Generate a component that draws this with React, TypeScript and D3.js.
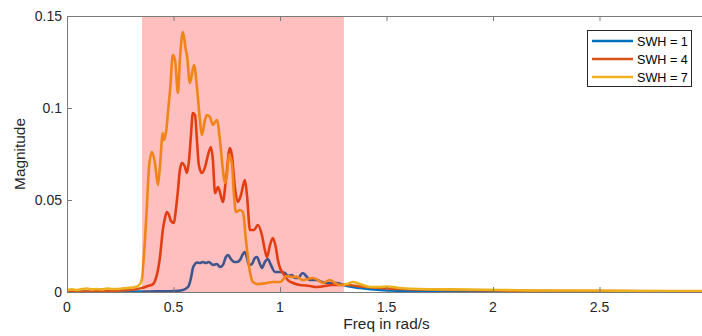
import React from 'react';
import * as d3 from 'd3';

// [freq (rad/s), magnitude]
const swh1: [number, number][] = [
  [0, 0.0001], [0.155, 0.0001], [0.389, 0.0003], [0.507, 0.0005], [0.544, 0.0011], [0.563, 0.0022],
  [0.573, 0.0038], [0.582, 0.0076], [0.591, 0.013], [0.601, 0.0152], [0.61, 0.016], [0.624, 0.0158],
  [0.638, 0.0163], [0.652, 0.0158], [0.666, 0.0163], [0.685, 0.0147], [0.704, 0.0152], [0.718, 0.0136],
  [0.732, 0.0147], [0.746, 0.019], [0.756, 0.0201], [0.77, 0.0179], [0.784, 0.0163], [0.798, 0.0163],
  [0.812, 0.0174], [0.826, 0.0207], [0.835, 0.0217], [0.845, 0.0185], [0.854, 0.0147], [0.868, 0.0152],
  [0.882, 0.0185], [0.892, 0.019], [0.906, 0.0152], [0.915, 0.013], [0.929, 0.0163], [0.943, 0.0179],
  [0.957, 0.0147], [0.976, 0.0109], [1.0, 0.0109], [1.023, 0.0103], [1.037, 0.0087], [1.056, 0.0092],
  [1.07, 0.0076], [1.084, 0.0076], [1.107, 0.0103], [1.126, 0.0082], [1.14, 0.0065], [1.173, 0.0065],
  [1.197, 0.0054], [1.22, 0.0049], [1.267, 0.0049], [1.314, 0.0033], [1.375, 0.0022], [1.469, 0.0011],
  [1.656, 0.0005], [2.032, 0.0003], [3.0, 0.0001],
];

const swh4: [number, number][] = [
  [0, 0.0003], [0.061, 0.0003], [0.155, 0.0005], [0.249, 0.0008], [0.319, 0.0014], [0.352, 0.0022],
  [0.38, 0.0033], [0.404, 0.0043], [0.413, 0.006], [0.427, 0.012], [0.436, 0.0185], [0.45, 0.0337],
  [0.46, 0.0402], [0.469, 0.0435], [0.479, 0.0418], [0.488, 0.0386], [0.502, 0.0375], [0.511, 0.0446],
  [0.521, 0.0554], [0.53, 0.0663], [0.54, 0.0701], [0.554, 0.0679], [0.563, 0.0647], [0.573, 0.0717],
  [0.582, 0.0853], [0.591, 0.0973], [0.601, 0.0962], [0.61, 0.0826], [0.619, 0.069], [0.633, 0.0647],
  [0.648, 0.0679], [0.662, 0.0745], [0.676, 0.0788], [0.685, 0.0717], [0.695, 0.0538], [0.709, 0.0571],
  [0.718, 0.0543], [0.732, 0.0489], [0.746, 0.0609], [0.765, 0.0783], [0.774, 0.0745], [0.788, 0.0571],
  [0.802, 0.0489], [0.817, 0.0527], [0.835, 0.0609], [0.845, 0.0527], [0.859, 0.0337], [0.878, 0.0337],
  [0.896, 0.0364], [0.915, 0.031], [0.929, 0.0228], [0.939, 0.019], [0.953, 0.0255], [0.967, 0.0293],
  [0.981, 0.0239], [0.99, 0.0174], [1.004, 0.012], [1.014, 0.0103], [1.037, 0.0065], [1.061, 0.0049],
  [1.093, 0.0038], [1.14, 0.0033], [1.173, 0.0027], [1.248, 0.0038], [1.314, 0.0038], [1.375, 0.003],
  [1.469, 0.0022], [1.563, 0.0016], [1.797, 0.0011], [2.032, 0.0008], [2.501, 0.0005], [3.0, 0.0003],
];

const swh7: [number, number][] = [
  [0, 0.0011], [0.023, 0.0014], [0.047, 0.0011], [0.07, 0.0016], [0.094, 0.0019], [0.117, 0.0014],
  [0.141, 0.0016], [0.164, 0.0014], [0.188, 0.0019], [0.211, 0.0016], [0.235, 0.0016], [0.258, 0.0019],
  [0.282, 0.0022], [0.305, 0.0024], [0.328, 0.003], [0.343, 0.0043], [0.352, 0.0076], [0.357, 0.0136],
  [0.366, 0.0283], [0.375, 0.0462], [0.385, 0.0679], [0.399, 0.0761], [0.413, 0.0701], [0.427, 0.0582],
  [0.436, 0.0679], [0.45, 0.0864], [0.455, 0.0826], [0.469, 0.0908], [0.474, 0.0978], [0.484, 0.1098],
  [0.497, 0.1288], [0.507, 0.1261], [0.521, 0.1082], [0.53, 0.1261], [0.544, 0.1413], [0.558, 0.1315],
  [0.563, 0.1288], [0.577, 0.1136], [0.596, 0.1234], [0.61, 0.1114], [0.624, 0.0935], [0.633, 0.0853],
  [0.648, 0.0935], [0.657, 0.0962], [0.671, 0.0951], [0.685, 0.0908], [0.704, 0.0935], [0.718, 0.0826],
  [0.732, 0.0663], [0.741, 0.0592], [0.751, 0.0636], [0.76, 0.0745], [0.774, 0.0701], [0.784, 0.0527],
  [0.793, 0.0435], [0.812, 0.0446], [0.826, 0.0435], [0.84, 0.0283], [0.859, 0.0109], [0.873, 0.0054],
  [0.896, 0.0043], [0.939, 0.0049], [0.967, 0.0054], [1.0, 0.0054], [1.032, 0.0087], [1.056, 0.0082],
  [1.079, 0.0082], [1.107, 0.0065], [1.131, 0.0071], [1.154, 0.0076], [1.178, 0.0065], [1.201, 0.0049],
  [1.234, 0.0065], [1.258, 0.0049], [1.281, 0.0038], [1.314, 0.0043], [1.342, 0.0054], [1.375, 0.0043],
  [1.422, 0.0027], [1.469, 0.0027], [1.502, 0.003], [1.563, 0.0022], [1.656, 0.0016], [1.797, 0.0014],
  [2.032, 0.0011], [2.267, 0.0008], [2.501, 0.0008], [2.736, 0.0005], [3.0, 0.0005],
];

const seriesNames = ['SWH = 1', 'SWH = 4', 'SWH = 7'];
const seriesColors = ['#0072BD', '#D95319', '#EDB120'];
const xTicks = [0, 0.5, 1, 1.5, 2, 2.5];
const yTicks = [0, 0.05, 0.1, 0.15];
const band: [number, number] = [0.352, 1.3];

const W = 702;
const H = 336;
const left = 67;
const right = 706;
const top = 16;
const bottom = 292;
const FONT = '"Liberation Sans", Arial, Helvetica, sans-serif';
const AX = '#7a7a7a';
const TXT = '#262626';

export default function App() {
  const x = d3.scaleLinear().domain([0, 3]).range([left, right]);
  const y = d3.scaleLinear().domain([0, 0.15]).range([bottom, top]);
  const line = d3
    .line<[number, number]>()
    .x((d) => x(d[0]))
    .y((d) => y(d[1]))
    .curve(d3.curveMonotoneX);
  const data = [swh1, swh4, swh7];

  return (
    <svg
      width={W}
      height={H}
      style={{ position: 'absolute', left: 0, top: 0, background: '#fff' }}
      fontFamily={FONT}
    >
      <defs>
        <clipPath id="plotclip">
          <rect x={left} y={top - 2} width={right - left} height={bottom - top + 4} />
        </clipPath>
      </defs>
      <rect x={0} y={0} width={W} height={H} fill="#fff" />
      <g clipPath="url(#plotclip)">
        {data.map((d, i) => (
          <path
            key={i}
            d={line(d) || ''}
            fill="none"
            stroke={seriesColors[i]}
            strokeWidth={2.6}
            strokeLinejoin="round"
          />
        ))}
        <rect
          x={x(band[0])}
          y={top}
          width={x(band[1]) - x(band[0])}
          height={bottom - top}
          fill="#ff0000"
          fillOpacity={0.25}
        />
      </g>
      {/* axes frame */}
      <line x1={left} x2={W} y1={bottom + 0.5} y2={bottom + 0.5} stroke={AX} strokeWidth={1} />
      <line x1={left} x2={W} y1={top + 0.5} y2={top + 0.5} stroke={AX} strokeWidth={1} />
      <line x1={left + 0.5} x2={left + 0.5} y1={top} y2={bottom + 1} stroke={AX} strokeWidth={1} />
      {xTicks.map((t) => (
        <g key={'x' + t}>
          <line x1={x(t) + 0.5} x2={x(t) + 0.5} y1={bottom} y2={bottom - 5} stroke={AX} />
          <line x1={x(t) + 0.5} x2={x(t) + 0.5} y1={top} y2={top + 5} stroke={AX} />
          <text x={x(t)} y={bottom + 20} textAnchor="middle" fontSize={14} fill={TXT}>
            {String(t)}
          </text>
        </g>
      ))}
      {yTicks.map((t) => (
        <g key={'y' + t}>
          <line x1={left} x2={left + 5} y1={y(t) + 0.5} y2={y(t) + 0.5} stroke={AX} />
          <text x={left - 5} y={y(t) + 5} textAnchor="end" fontSize={14} fill={TXT}>
            {String(t)}
          </text>
        </g>
      ))}
      <text x={(left + right) / 2} y={329} textAnchor="middle" fontSize={15.4} fill={TXT}>
        Freq in rad/s
      </text>
      <text
        transform={`translate(25, ${(top + bottom) / 2}) rotate(-90)`}
        textAnchor="middle"
        fontSize={15.4}
        fill={TXT}
      >
        Magnitude
      </text>
      {/* legend */}
      <rect x={587.5} y={30.5} width={104} height={56} fill="#fff" stroke="#262626" strokeWidth={1} />
      {seriesNames.map((n, i) => (
        <g key={n}>
          <line
            x1={592}
            x2={633}
            y1={41 + i * 18}
            y2={41 + i * 18}
            stroke={seriesColors[i]}
            strokeWidth={2.6}
          />
          <text x={637} y={45.5 + i * 18} fontSize={12.6} fill="#000">
            {n}
          </text>
        </g>
      ))}
    </svg>
  );
}
